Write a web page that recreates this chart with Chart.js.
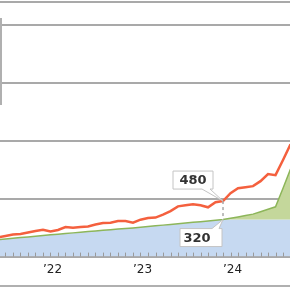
<!DOCTYPE html>
<html><head><meta charset="utf-8">
<script src="https://cdn.jsdelivr.net/npm/chart.js@4.4.1/dist/chart.umd.min.js"></script>
<style>html,body{margin:0;padding:0;background:#fff;overflow:hidden}canvas{display:block}</style>
</head><body>
<canvas id="c" width="290" height="290"></canvas>
<script>
const months = ['2021-07','2021-08','2021-09','2021-10','2021-11','2021-12',
  '2022-01','2022-02','2022-03','2022-04','2022-05','2022-06','2022-07','2022-08','2022-09','2022-10','2022-11','2022-12',
  '2023-01','2023-02','2023-03','2023-04','2023-05','2023-06','2023-07','2023-08','2023-09','2023-10','2023-11','2023-12',
  '2024-01','2024-02','2024-03','2024-04','2024-05','2024-06','2024-07','2024-08','2024-09','2024-10'];
const redSeries = [165,178,191,196,209,222,
  232,217,230,255,250,255,261,278,290,293,307,307,
  293,319,333,337,363,393,434,443,452,443,426,470,
  480,548,591,600,609,652,713,704,835,970];
const greenSeries = [146,152,158,164,170,176,
  183,188,194,199,205,210,216,221,227,232,238,243,
  248,254,260,266,272,278,284,290,296,302,308,314,
  320,332,343,355,367,388,409,430,591,757];
const blueSeries = [146,152,158,164,170,176,
  183,188,194,199,205,210,216,221,227,232,238,243,
  248,254,260,266,272,278,284,290,296,302,308,314,
  320,320,320,320,320,320,320,320,320,320];
const yearTickMonths = ['2022-01','2023-01','2024-01'];
const yearTickLabels = ['\u201922','\u201923','\u201924'];
const gridValues = [0,500,1000,1500,2000,2200];
const calloutMonth = '2024-01';
const viewStart = '2021-07', viewEnd = '2024-10';

function mIndex(s){const [y,m]=s.split('-').map(Number);return (y-2022)*12+(m-1);}
const xs = months.map(mIndex);
const pts = arr => arr.map((v,i)=>({x:xs[i],y:v}));
const cIdx = months.indexOf(calloutMonth);

function bubbleTop(ctx,px,py,text){
  const L=px-50,R=px-10,T=py-30,B=py-12;
  ctx.beginPath();
  ctx.moveTo(L,T);ctx.lineTo(R,T);ctx.lineTo(R,B);ctx.lineTo(R-3,B);ctx.lineTo(px,py);ctx.lineTo(R-11,B);ctx.lineTo(L,B);ctx.closePath();
  ctx.fillStyle='#fff';ctx.fill();ctx.strokeStyle='#c4c4c4';ctx.lineWidth=1;ctx.stroke();
  ctx.fillStyle='#333';ctx.font='bold 13px "DejaVu Sans"';ctx.textAlign='center';ctx.textBaseline='middle';
  ctx.fillText(text,(L+R)/2,(T+B)/2+1);
}
function bubbleBottom(ctx,px,py,text){
  const L=px-43,R=px-1,T=py+9,B=py+27;
  ctx.beginPath();
  ctx.moveTo(L,T);ctx.lineTo(R-10,T);ctx.lineTo(px,py);ctx.lineTo(R-3,T);ctx.lineTo(R,T);ctx.lineTo(R,B);ctx.lineTo(L,B);ctx.closePath();
  ctx.fillStyle='#fff';ctx.fill();ctx.strokeStyle='#c4c4c4';ctx.lineWidth=1;ctx.stroke();
  ctx.fillStyle='#333';ctx.font='bold 13px "DejaVu Sans"';ctx.textAlign='center';ctx.textBaseline='middle';
  ctx.fillText(text,(L+R)/2-4,(T+B)/2+1);
}

const deco = {
  id:'deco',
  afterDatasetsDraw(chart){
    const ctx=chart.ctx, x=chart.scales.x, a=chart.chartArea;
    ctx.save();
    ctx.strokeStyle='#9a9a9a';ctx.lineWidth=1;
    for(let m=Math.ceil(x.min);m<=Math.floor(x.max);m++){
      const px=Math.round(x.getPixelForValue(m))+0.5;
      ctx.beginPath();ctx.moveTo(px,a.bottom-4);ctx.lineTo(px,a.bottom);ctx.stroke();
    }
    const r=chart.getDatasetMeta(2).data[cIdx], g=chart.getDatasetMeta(1).data[cIdx];
    ctx.setLineDash([3,3]);ctx.strokeStyle='#a8a8a8';ctx.lineWidth=1.5;
    ctx.beginPath();ctx.moveTo(r.x,r.y);ctx.lineTo(g.x,g.y);ctx.stroke();
    ctx.setLineDash([]);
    bubbleTop(ctx,r.x,r.y,String(redSeries[cIdx]));
    bubbleBottom(ctx,g.x,g.y,String(greenSeries[cIdx]));
    ctx.restore();
  },
  afterDraw(chart){
    const ctx=chart.ctx;
    ctx.save();
    ctx.strokeStyle='#b0b0b0';ctx.lineWidth=2;
    ctx.beginPath();ctx.moveTo(0,286);ctx.lineTo(chart.width,286);ctx.stroke();
    ctx.beginPath();ctx.moveTo(1,18);ctx.lineTo(1,105);ctx.stroke();
    ctx.restore();
  }
};

new Chart(document.getElementById('c'),{
  type:'line',
  data:{datasets:[
    {label:'base',data:pts(blueSeries),fill:'origin',backgroundColor:'#c6d9f1',borderWidth:0,pointRadius:0,order:3},
    {label:'green',data:pts(greenSeries),fill:'-1',backgroundColor:'#c4d79b',borderColor:'#8db65a',borderWidth:1.5,pointRadius:0,order:2},
    {label:'red',data:pts(redSeries),fill:false,borderColor:'#f4603e',borderWidth:2.5,pointRadius:0,order:1}
  ]},
  options:{
    responsive:false,animation:false,devicePixelRatio:1,
    layout:{padding:{top:2,left:0,right:0,bottom:15}},
    plugins:{legend:{display:false},tooltip:{enabled:false}},
    elements:{line:{tension:0}},
    scales:{
      x:{type:'linear',min:mIndex(viewStart)+0.27,max:mIndex(viewEnd)-0.07,
        afterBuildTicks(s){s.ticks=yearTickMonths.map(m=>({value:mIndex(m)}));},
        ticks:{align:'start',maxRotation:0,autoSkip:false,padding:-2,color:'#222',font:{family:'DejaVu Sans',size:12},
          callback:(v)=>{const i=yearTickMonths.map(mIndex).indexOf(v);return i>=0?yearTickLabels[i]:'';}},
        grid:{display:false},
        border:{display:true,color:'#a8a8a8',width:2}
      },
      y:{min:0,max:2200,
        afterBuildTicks(s){s.ticks=gridValues.map(v=>({value:v}));},
        ticks:{display:false},
        grid:{color:'#a9a9a9',lineWidth:2,drawTicks:false},
        border:{display:false}
      }
    }
  },
  plugins:[deco]
});
</script>
</body></html>
